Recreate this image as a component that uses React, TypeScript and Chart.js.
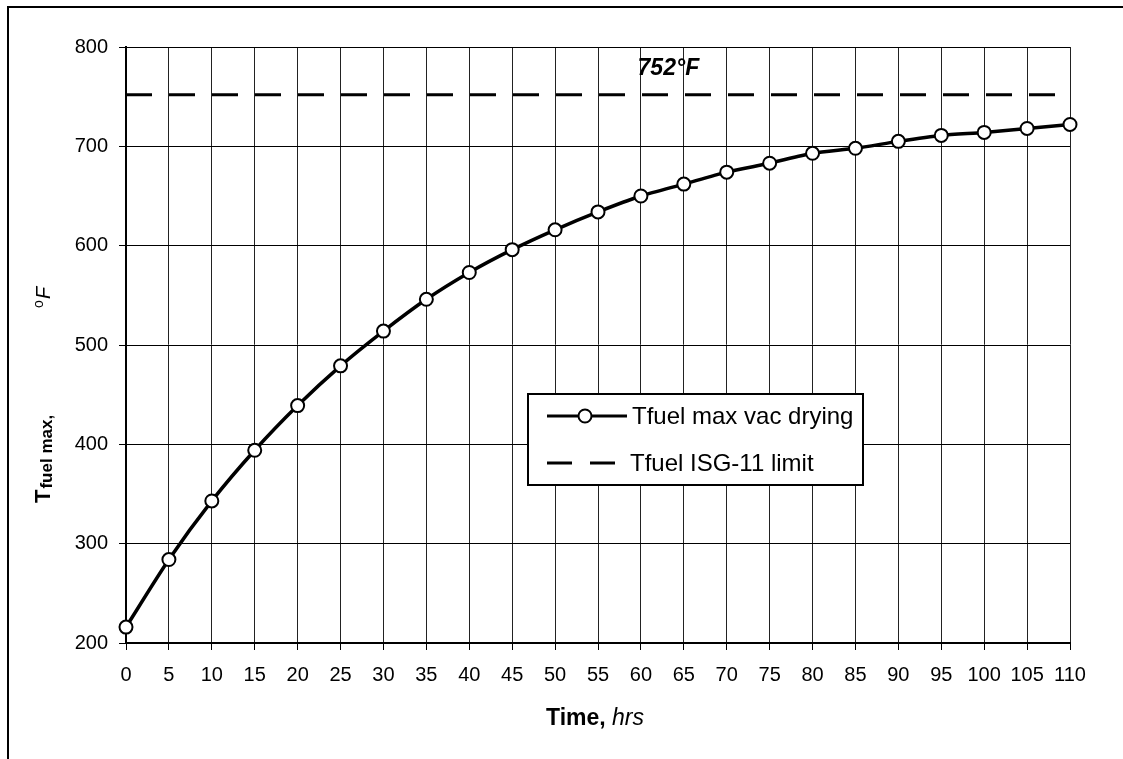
import React, { useEffect, useRef } from "react";
import { Chart, registerables } from "chart.js";

Chart.register(...registerables);

const HOURS = [0, 5, 10, 15, 20, 25, 30, 35, 40, 45, 50, 55, 60, 65, 70, 75, 80, 85, 90, 95, 100, 105, 110];
const TFUEL = [216, 284, 343, 394, 439, 479, 514, 546, 573, 596, 616, 634, 650, 662, 674, 683, 693, 698, 705, 711, 714, 718, 722];
const LIMIT_HOURS = [0, 110];
const LIMIT_F = [752, 752];
const SERIES_LABELS = ["Tfuel max vac drying", "Tfuel ISG-11 limit"];
const ANNOTATION_TEXT = "752\u00B0F";
const ANNOTATION_AT = { x: 63.2, y: 778 };
const Y_MIN = 200;
const Y_MAX = 800;
const Y_STEP = 100;
const X_MIN = 0;
const X_MAX = 110;
const X_STEP = 5;

const FONT = '"Liberation Sans", Arial, sans-serif';

const decorPlugin = {
  id: "decor",
  beforeDraw(chart: any) {
    const ctx = chart.ctx;
    ctx.save();
    ctx.fillStyle = "#fff";
    ctx.fillRect(0, 0, chart.width, chart.height);
    ctx.strokeStyle = "#000";
    ctx.lineWidth = 2;
    ctx.beginPath();
    ctx.moveTo(8, chart.height);
    ctx.lineTo(8, 7);
    ctx.lineTo(chart.width, 7);
    ctx.stroke();
    ctx.restore();
  },
  afterDraw(chart: any) {
    const ctx = chart.ctx;
    const xs = chart.scales.x;
    const ys = chart.scales.y;
    const area = chart.chartArea;
    ctx.save();
    ctx.fillStyle = "#000";

    // annotation
    ctx.font = `italic bold 23px ${FONT}`;
    ctx.textAlign = "center";
    ctx.textBaseline = "middle";
    ctx.fillText(ANNOTATION_TEXT, xs.getPixelForValue(ANNOTATION_AT.x), ys.getPixelForValue(ANNOTATION_AT.y));

    // x title: "Time, hrs"
    ctx.textBaseline = "middle";
    ctx.textAlign = "left";
    const p1 = "Time, ";
    const p2 = "hrs";
    ctx.font = `bold 23px ${FONT}`;
    const w1 = ctx.measureText(p1).width;
    ctx.font = `italic 23px ${FONT}`;
    const w2 = ctx.measureText(p2).width;
    const cx = (area.left + area.right) / 2 - 3;
    const sx = cx - (w1 + w2) / 2;
    ctx.font = `bold 23px ${FONT}`;
    ctx.fillText(p1, sx, 719);
    ctx.font = `italic 23px ${FONT}`;
    ctx.fillText(p2, sx + w1, 719);

    // y title
    ctx.save();
    ctx.translate(50, 503);
    ctx.rotate(-Math.PI / 2);
    ctx.textBaseline = "alphabetic";
    ctx.textAlign = "left";
    ctx.font = `bold 22px ${FONT}`;
    ctx.fillText("T", 0, 0);
    const tw = ctx.measureText("T").width;
    ctx.font = `bold 17px ${FONT}`;
    ctx.fillText("fuel max,", tw + 1, 2);
    ctx.font = `14px ${FONT}`;
    ctx.fillText("o", 195, -7);
    ctx.font = `italic 20px ${FONT}`;
    ctx.fillText("F", 204, 0);
    ctx.restore();

    // legend
    const bx = 528, by = 394, bw = 335, bh = 91;
    ctx.fillStyle = "#fff";
    ctx.fillRect(bx, by, bw, bh);
    ctx.strokeStyle = "#000";
    ctx.lineWidth = 2;
    ctx.strokeRect(bx, by, bw, bh);
    ctx.fillStyle = "#000";
    ctx.font = `24px ${FONT}`;
    ctx.textBaseline = "middle";
    ctx.textAlign = "left";
    const y1 = 416;
    ctx.lineWidth = 3;
    ctx.setLineDash([]);
    ctx.beginPath();
    ctx.moveTo(547, y1);
    ctx.lineTo(627, y1);
    ctx.stroke();
    ctx.beginPath();
    ctx.arc(585, y1, 6.5, 0, Math.PI * 2);
    ctx.fillStyle = "#fff";
    ctx.fill();
    ctx.lineWidth = 2;
    ctx.stroke();
    ctx.fillStyle = "#000";
    ctx.fillText(chart.data.datasets[0].label, 632, y1 + 1);
    const y2 = 463;
    ctx.lineWidth = 3;
    ctx.beginPath();
    ctx.moveTo(547, y2);
    ctx.lineTo(572, y2);
    ctx.moveTo(590, y2);
    ctx.lineTo(615, y2);
    ctx.stroke();
    ctx.fillText(chart.data.datasets[1].label, 630, y2 + 1);
    ctx.restore();
  },
};

export default function App() {
  const ref = useRef<HTMLCanvasElement | null>(null);
  useEffect(() => {
    if (!ref.current) return;
    const chart = new Chart(ref.current, {
      type: "line",
      data: {
        datasets: [
          {
            label: SERIES_LABELS[0],
            data: HOURS.map((h, i) => ({ x: h, y: TFUEL[i] })),
            borderColor: "#000",
            borderWidth: 3.5,
            tension: 0.25,
            pointRadius: 6.5,
            pointBorderWidth: 2,
            pointBackgroundColor: "#fff",
            pointBorderColor: "#000",
            clip: false,
          } as any,
          {
            label: SERIES_LABELS[1],
            data: LIMIT_HOURS.map((h, i) => ({ x: h, y: LIMIT_F[i] })),
            borderColor: "#000",
            borderWidth: 3,
            borderDash: [26, 17],
            pointRadius: 0,
          },
        ],
      },
      options: {
        animation: false,
        responsive: false,
        devicePixelRatio: 1,
        layout: { padding: { left: 0, top: 47, right: 53, bottom: 0 } },
        plugins: { legend: { display: false }, tooltip: { enabled: false }, title: { display: false } },
        scales: {
          x: {
            type: "linear",
            min: X_MIN,
            max: X_MAX,
            ticks: { stepSize: X_STEP, color: "#000", font: { family: FONT, size: 20 }, padding: 13, maxRotation: 0, autoSkip: false },
            grid: { color: "#222", lineWidth: 1, tickLength: 7, tickColor: "#000" },
            border: { color: "#000", width: 2 },
            afterFit: (s: any) => { s.height = 116; },
          },
          y: {
            min: Y_MIN,
            max: Y_MAX,
            ticks: { stepSize: Y_STEP, color: "#000", font: { family: FONT, size: 20 }, padding: 11 },
            grid: { color: "#000", lineWidth: 1, tickLength: 7, tickColor: "#000" },
            border: { color: "#000", width: 2 },
            afterFit: (s: any) => { s.width = 126; },
          },
        },
      },
      plugins: [decorPlugin],
    });
    return () => chart.destroy();
  }, []);
  return (
    <div style={{ position: "absolute", left: 0, top: 0, width: 1123, height: 759, background: "#fff" }}>
      <canvas ref={ref} width={1123} height={759} style={{ display: "block" }} />
    </div>
  );
}
